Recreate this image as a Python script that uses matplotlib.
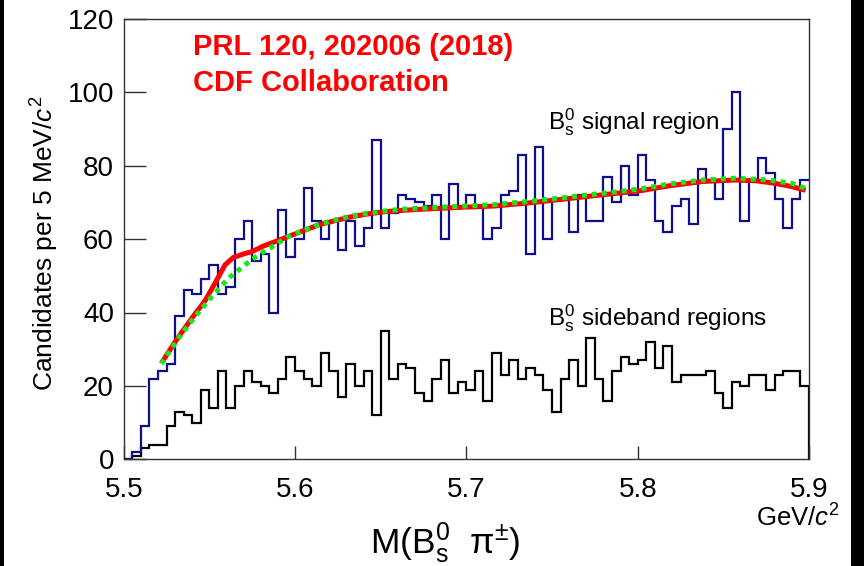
import numpy as np
import matplotlib
matplotlib.use("Agg")
import matplotlib.pyplot as plt
from matplotlib.patches import Rectangle

plt.rcParams['font.family'] = ['Liberation Sans', 'DejaVu Sans']
plt.rcParams['mathtext.fontset'] = 'custom'
plt.rcParams['mathtext.rm'] = 'Liberation Sans'
plt.rcParams['mathtext.it'] = 'Liberation Sans:italic'
plt.rcParams['mathtext.bf'] = 'Liberation Sans:bold'

# ---- data ----
x_min, x_max, n_bins = 5.5, 5.9, 80
signal_counts = [0, 2, 9, 22, 24, 26, 39, 46, 45, 49,
                 53, 45, 47, 60, 65, 54, 56, 40, 68, 55,
                 60, 74, 65, 60, 65, 57, 65, 58, 63, 87,
                 63, 67, 72, 71, 70, 69, 72, 60, 75, 69,
                 72, 69, 60, 63, 72, 73, 83, 56, 85, 60,
                 71, 71, 62, 72, 65, 65, 77, 70, 80, 72,
                 83, 76, 65, 62, 69, 71, 64, 79, 76, 71,
                 90, 100, 65, 76, 82, 78, 71, 63, 71, 76]
sideband_counts = [0, 1, 3, 4, 4, 9, 13, 12, 10, 19,
                   14, 24, 14, 20, 24, 21, 20, 18, 22, 28,
                   24, 22, 20, 29, 24, 17, 26, 20, 24, 12,
                   35, 22, 26, 25, 18, 16, 22, 27, 18, 21,
                   19, 24, 16, 29, 23, 27, 22, 25, 23, 19,
                   13, 22, 27, 20, 33, 22, 16, 24, 28, 26,
                   27, 32, 25, 31, 21, 23, 23, 23, 24, 18,
                   14, 21, 20, 23, 23, 19, 23, 24, 24, 20]

fit_red_x = [5.522, 5.530, 5.540, 5.5475, 5.5533, 5.5592, 5.564, 5.571, 5.575,
             5.581, 5.590, 5.596, 5.605, 5.614, 5.624, 5.633, 5.643, 5.653,
             5.662, 5.672, 5.685, 5.699, 5.716, 5.735, 5.755, 5.774, 5.790,
             5.802, 5.818, 5.838, 5.857, 5.869, 5.880, 5.890, 5.898]
fit_red_y = [26.2, 32.0, 38.6, 43.2, 48.0, 53.0, 55.0, 56.1, 56.6,
             58.0, 59.6, 60.7, 62.3, 63.9, 65.1, 66.1, 66.9, 67.5,
             67.8, 68.1, 68.4, 68.7, 69.0, 69.8, 70.8, 71.8, 72.6,
             73.2, 74.5, 75.7, 76.1, 75.9, 75.2, 74.3, 73.3]

fit_green_x = [5.522, 5.532, 5.5416, 5.5514, 5.5611, 5.5709, 5.5786, 5.5884,
               5.596, 5.605, 5.614, 5.624, 5.633, 5.643, 5.653, 5.662, 5.672,
               5.685, 5.699, 5.716, 5.735, 5.755, 5.774, 5.790, 5.802, 5.818,
               5.838, 5.857, 5.8765, 5.890, 5.898]
fit_green_y = [26.0, 33.0, 38.9, 44.3, 49.3, 53.0, 55.7, 58.4,
               60.7, 62.4, 64.0, 65.3, 66.3, 67.1, 67.7, 68.1, 68.4,
               68.7, 69.0, 69.4, 70.2, 71.2, 72.2, 73.0, 73.7, 75.0,
               76.1, 76.6, 76.1, 75.2, 73.8]

x_ticks = [5.5, 5.6, 5.7, 5.8, 5.9]
x_tick_labels = ["5.5", "5.6", "5.7", "5.8", "5.9"]
y_ticks = [0, 20, 40, 60, 80, 100, 120]

# ---- figure ----
W, H = 864, 566
fig = plt.figure(figsize=(W / 100, H / 100), dpi=100, facecolor='white')
ax = fig.add_axes([123.7 / W, 1 - 459.3 / H, (809 - 123.7) / W, (459.3 - 18.9) / H])
ax.set_facecolor('white')

edges = np.linspace(x_min, x_max, n_bins + 1)
ax.stairs(sideband_counts, edges, color='black', linewidth=1.6, baseline=0)
ax.stairs(signal_counts, edges, color='#0e0e92', linewidth=1.6, baseline=None)

ax.plot(fit_red_x, fit_red_y, color='#ff0000', linewidth=3.6, solid_capstyle='butt', zorder=4)
ax.plot(fit_green_x, fit_green_y, color='#19e619', linewidth=3.6,
        linestyle=(0, (1.0, 1.0)), dash_capstyle='butt', zorder=5)

ax.set_xlim(x_min, x_max)
ax.set_ylim(0, 120)
ax.set_xticks(x_ticks)
ax.set_xticklabels(x_tick_labels)
ax.set_yticks(y_ticks)
ax.tick_params(axis='y', direction='in', length=16, width=1.0, labelsize=20, pad=7, color='#333333')
ax.tick_params(axis='x', direction='in', length=9.5, width=1.0, labelsize=20, pad=13, color='#333333')
for s in ax.spines.values():
    s.set_linewidth(1.0)
    s.set_color('#333333')

ax.text(5.5405, 112.3, "PRL 120, 202006 (2018)", color='#ff0000', fontsize=21,
        fontweight='bold', va='center', ha='left')
ax.text(5.5405, 102.5, "CDF Collaboration", color='#ff0000', fontsize=21,
        fontweight='bold', va='center', ha='left')
ax.text(5.7477, 92.0, r"B$_{\rm s}^{0}$ signal region", fontsize=17.5, va='center', ha='left')
ax.text(5.7477, 38.4, r"B$_{\rm s}^{0}$ sideband regions", fontsize=17.5, va='center', ha='left')

fig.text(45 / W, 1 - 243 / H, r"Candidates per 5 MeV/$c^{2}$", rotation=90,
         fontsize=19, ha='center', va='center')
fig.text(445 / W, 1 - 543 / H, r"M(B$_{\rm s}^{0}$  π$^{\pm}$)", fontsize=25.5,
         ha='center', va='center')
fig.text(798 / W, 1 - 518 / H, r"GeV/$c^{2}$", fontsize=18.5, ha='center', va='center')

# dark screenshot border
for (x0, y0, w, h) in [(0, 0, 4, H), (851, 0, 13, H)]:
    fig.add_artist(Rectangle((x0 / W, 1 - (y0 + h) / H), w / W, h / H,
                             transform=fig.transFigure, facecolor='black',
                             edgecolor='none', zorder=10))

fig.savefig("out.png", dpi=100, facecolor='white')
